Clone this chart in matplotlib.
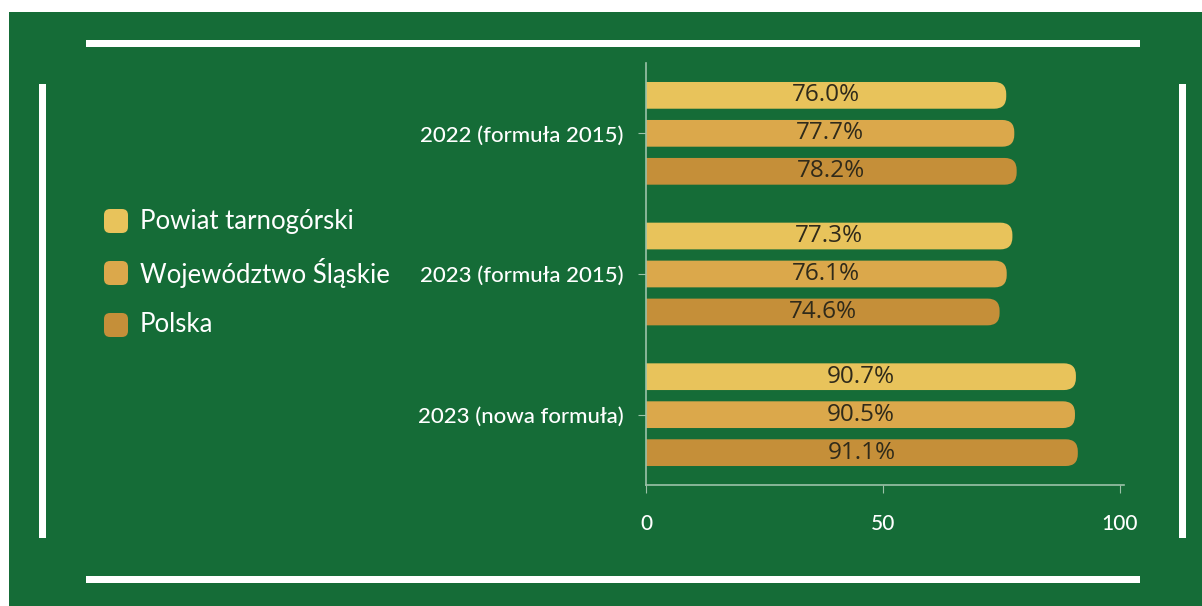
import matplotlib.pyplot as plt
from matplotlib.patches import Rectangle, FancyBboxPatch
import numpy as np

categories = ['2022 (formuła 2015)', '2023 (formuła 2015)', '2023 (nowa formuła)']
series = ['Powiat tarnogórski', 'Województwo Śląskie', 'Polska']
powiat = [76.0, 77.3, 90.7]
slaskie = [77.7, 76.1, 90.5]
polska = [78.2, 74.6, 91.1]
xticks = [0, 50, 100]

colors = ['#e8c35b', '#dba84b', '#c58f39']
green = '#156c37'
axcol = '#9cc2a8'

W, H = 1202, 606
fig = plt.figure(figsize=(W / 100, H / 100), dpi=100)
fig.patch.set_facecolor('white')


def frect(x, y, w, h, color):
    # pixel box, top-left origin -> figure fraction
    fig.add_artist(Rectangle((x / W, 1 - (y + h) / H), w / W, h / H,
                             transform=fig.transFigure, color=color, lw=0, zorder=-5))


# background + white frame strokes
frect(9, 12, W - 9, H - 12, green)
frect(86, 40, 1054, 7, 'white')
frect(86, 576, 1054, 7, 'white')
frect(39, 84, 7, 454, 'white')
frect(1179, 84, 7, 454, 'white')

# axes: x=0 at px 646, 100 at px 1120
x0, x1, ytop, ybot = 646, 1124, 63, 485
ax = fig.add_axes([x0 / W, 1 - ybot / H, (x1 - x0) / W, (ybot - ytop) / H])
ax.set_facecolor('none')
xmax = 100 * (x1 - x0) / (1120 - x0)
ax.set_xlim(0, xmax)
ax.set_ylim(2.5, -0.5)

y = np.arange(len(categories))
off = 0.27
bh = 0.19
data = [powiat, slaskie, polska]

fig.canvas.draw()
pxx = ax.transData.transform((1, 0))[0] - ax.transData.transform((0, 0))[0]
pxy = abs(ax.transData.transform((0, 1))[1] - ax.transData.transform((0, 0))[1])
aspect = pxx / pxy
r = 12 / pxx

for i, vals in enumerate(data):
    bars = ax.barh(y + (i - 1) * off, vals, height=bh, color=colors[i])
    for b, v in zip(bars, vals):
        b.set_visible(False)
        fb = FancyBboxPatch((-r * 2, b.get_y()), b.get_width() + r * 2, b.get_height(),
                            boxstyle=f'round,pad=0,rounding_size={r}',
                            mutation_aspect=aspect, fc=colors[i], ec='none', zorder=2)
        ax.add_patch(fb)
        ax.text(v / 2, b.get_y() + b.get_height() / 2, f'{v:.1f}%', ha='center', va='center',
                fontsize=17.5, color='#2f2a1a', family='Open Sans', zorder=3)

ax.set_yticks(y)
ax.set_yticklabels(categories)
ax.set_xticks(xticks)
for s in ['top', 'right']:
    ax.spines[s].set_visible(False)
for s in ['left', 'bottom']:
    ax.spines[s].set_color(axcol)
    ax.spines[s].set_linewidth(1.2)
ax.tick_params(axis='y', length=6, color=axcol, pad=10, labelsize=16, labelcolor='white')
ax.tick_params(axis='x', length=6, color=axcol, pad=15, labelsize=15, labelcolor='white')
for t in ax.get_xticklabels() + ax.get_yticklabels():
    t.set_family('Lato')
    t.set_fontweight('medium')

# legend drawn by hand: rounded squares + labels
leg_y = [221, 273, 325]
for name, c, ly in zip(series, colors, leg_y):
    fig.add_artist(FancyBboxPatch((104 / W, 1 - (ly + 12) / H), 24 / W, 24 / H,
                                  boxstyle='round,pad=0,rounding_size=0.005',
                                  mutation_aspect=W / H, transform=fig.transFigure,
                                  fc=c, ec='none'))
    fig.text(140 / W, 1 - ly / H, name, ha='left', va='center', fontsize=18.5,
             color='white', family='Lato')

fig.savefig('out.png', dpi=100, facecolor=fig.get_facecolor())
